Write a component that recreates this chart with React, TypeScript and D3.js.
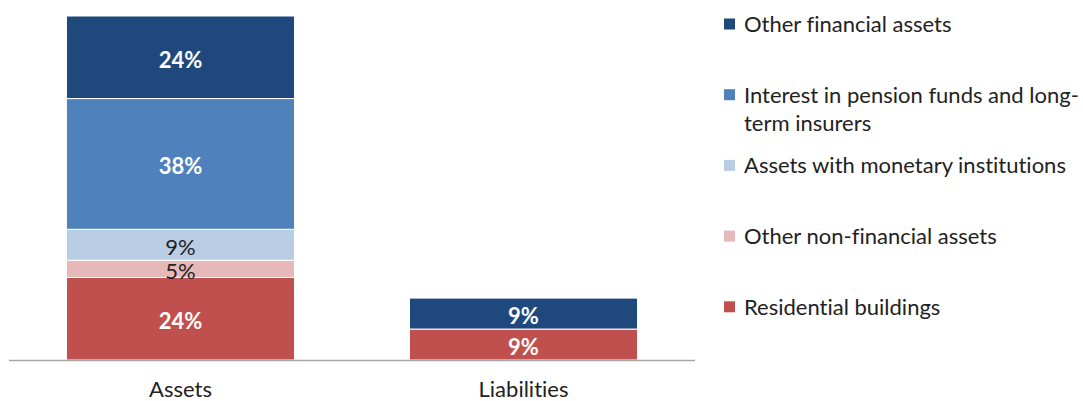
import React from "react";
import * as d3 from "d3";

const categories = ["Assets", "Liabilities"];
const seriesNames = [
  "Residential buildings",
  "Other non-financial assets",
  "Assets with monetary institutions",
  "Interest in pension funds and long-term insurers",
  "Other financial assets",
];
// values per category, bottom to top
const residential = [24, 9];
const otherNonFin = [5, 0];
const monetary = [9, 0];
const pension = [38, 0];
const otherFin = [24, 9];

const colors = ["#C0504D", "#E6B9B8", "#B9CDE5", "#4F81BD", "#1F497D"];
const labelColors = ["#ffffff", "#222222", "#222222", "#ffffff", "#ffffff"];
const labelWeights = [700, 400, 400, 700, 700];

const legendOrder = [4, 3, 2, 1, 0];
const legendLines: string[][] = [
  ["Other financial assets"],
  ["Interest in pension funds and long-", "term insurers"],
  ["Assets with monetary institutions"],
  ["Other non-financial assets"],
  ["Residential buildings"],
];

const W = 1083;
const H = 401;
const FONT = "Lato, 'Open Sans', sans-serif";
const FS = 22;

export default function App() {
  const rows = categories.map((c, i) => ({
    cat: c,
    s0: residential[i],
    s1: otherNonFin[i],
    s2: monetary[i],
    s3: pension[i],
    s4: otherFin[i],
  }));
  const keys = ["s0", "s1", "s2", "s3", "s4"];
  const stacked = d3.stack<any>().keys(keys)(rows);

  const x = d3.scaleBand().domain(categories).range([9, 695]).paddingInner(0.335).paddingOuter(0.1675);
  const y = d3.scaleLinear().domain([0, 100]).range([360, 16]);

  return (
    <svg
      width={W}
      height={H}
      style={{ position: "absolute", left: 0, top: 0, fontFamily: FONT, fontVariantLigatures: "none" }}
    >
      <rect width={W} height={H} fill="#fff" />
      {stacked.map((layer, si) =>
        layer.map((d, ci) => {
          const v = d[1] - d[0];
          if (v <= 0) return null;
          const x0 = x(categories[ci])!;
          const y0 = y(d[1]);
          const h = y(d[0]) - y(d[1]);
          return (
            <g key={`${si}-${ci}`}>
              <rect x={x0} y={y0} width={x.bandwidth()} height={h} fill={colors[si]} stroke="#ffffff" strokeWidth={1} />
              <text
                x={x0 + x.bandwidth() / 2}
                y={y0 + h / 2}
                dy="0.48em"
                textAnchor="middle"
                fontSize={FS}
                fontWeight={labelWeights[si]}
                fill={labelColors[si]}
              >
                {`${v}%`}
              </text>
            </g>
          );
        })
      )}
      <line x1={9} x2={695} y1={360.5} y2={360.5} stroke="#a6a6a6" strokeWidth={1.5} />
      {categories.map((c) => (
        <text key={c} x={x(c)! + x.bandwidth() / 2} y={389} dy="0.36em" textAnchor="middle" fontSize={FS} fill="#222">
          {c}
        </text>
      ))}
      {legendOrder.map((si, li) => {
        const cy = 24 + li * 70.7;
        return (
          <g key={si}>
            <rect x={724} y={cy - 5.5} width={11} height={11} fill={colors[si]} />
            {legendLines[li].map((ln, k) => (
              <text key={k} x={744} y={cy + k * 28} dy="0.36em" fontSize={FS} fill="#222">
                {ln}
              </text>
            ))}
          </g>
        );
      })}
    </svg>
  );
}
